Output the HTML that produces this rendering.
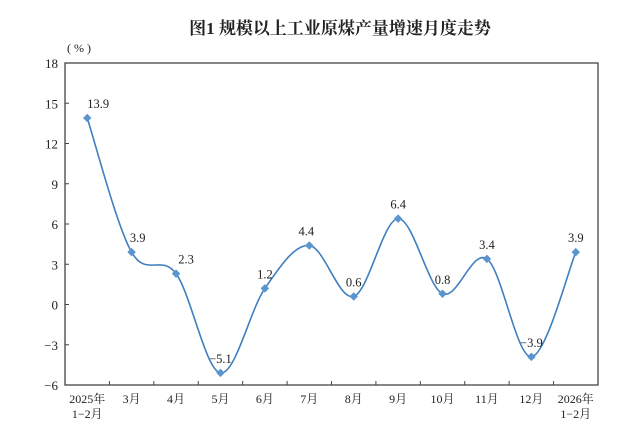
<!DOCTYPE html>
<html><head><meta charset="utf-8"><style>
html,body{margin:0;padding:0;background:#fff;}
svg text{font-family:"Liberation Serif","Noto Serif CJK SC",serif;fill:#222;}
</style></head><body>
<svg id="s" width="640" height="442" xmlns="http://www.w3.org/2000/svg">
<text x="340" y="34" text-anchor="middle" font-size="17" font-weight="bold">图1 规模以上工业原煤产量增速月度走势</text>
<text x="79" y="52" text-anchor="middle" font-size="12">( % )</text>
<g id="g"></g>
</svg>
<script>
var g=document.getElementById('g'),ns='http://www.w3.org/2000/svg';
function el(t,a,txt){var e=document.createElementNS(ns,t);for(var k in a)e.setAttribute(k,a[k]);if(txt!=null)e.textContent=txt;g.appendChild(e);return e;}
var L=65,R=598,T=63,B=385,cw=(R-L)/12;
function Y(v){return B-(v+6)*(B-T)/24;}
el('rect',{x:L,y:T,width:R-L,height:B-T,fill:'none',stroke:'#444','stroke-width':1.3});
for(var v=-6;v<=18;v+=3){var y=Y(v);el('line',{x1:L,x2:L+4,y1:y,y2:y,stroke:'#444'});
el('text',{x:L-7,y:y+5,'text-anchor':'end','font-size':13},(v<0?'−':'')+Math.abs(v));}
for(var k=1;k<12;k++){var x=L+cw*k;el('line',{x1:x,x2:x,y1:B,y2:B-4,stroke:'#444'});}
var labs=['2025年|1−2月','3月','4月','5月','6月','7月','8月','9月','10月','11月','12月','2026年|1−2月'];
var d=[13.9,3.9,2.3,-5.1,1.2,4.4,0.6,6.4,0.8,3.4,-3.9,3.9];
var P=d.map(function(v,i){return [L+cw*(i+0.5),Y(v)];});
labs.forEach(function(s,i){var p=s.split('|');el('text',{x:P[i][0],y:403,'text-anchor':'middle','font-size':12},p[0]);if(p[1])el('text',{x:P[i][0],y:418,'text-anchor':'middle','font-size':12},p[1]);});
var path='M'+P[0][0]+','+P[0][1];
for(var i=0;i<P.length-1;i++){var p0=P[i-1]||P[i],p1=P[i],p2=P[i+1],p3=P[i+2]||P[i+1],t=6;
path+=' C'+(p1[0]+(p2[0]-p0[0])/t)+','+(p1[1]+(p2[1]-p0[1])/t)+' '+(p2[0]-(p3[0]-p1[0])/t)+','+(p2[1]-(p3[1]-p1[1])/t)+' '+p2[0]+','+p2[1];}
el('path',{d:path,fill:'none',stroke:'#3f7fbf','stroke-width':1.6});
var DX=[11,6,10,0,0,-3,0,0,0,0,0,0];
P.forEach(function(p,i){el('rect',{x:p[0]-3,y:p[1]-3,width:6,height:6,fill:'#5b95cf',transform:'rotate(45 '+p[0]+' '+p[1]+')'});
var v=d[i];el('text',{x:p[0]+DX[i],y:p[1]-10,'text-anchor':'middle','font-size':12.5},(v<0?'−':'')+Math.abs(v).toFixed(1));});
</script>
</body></html>
